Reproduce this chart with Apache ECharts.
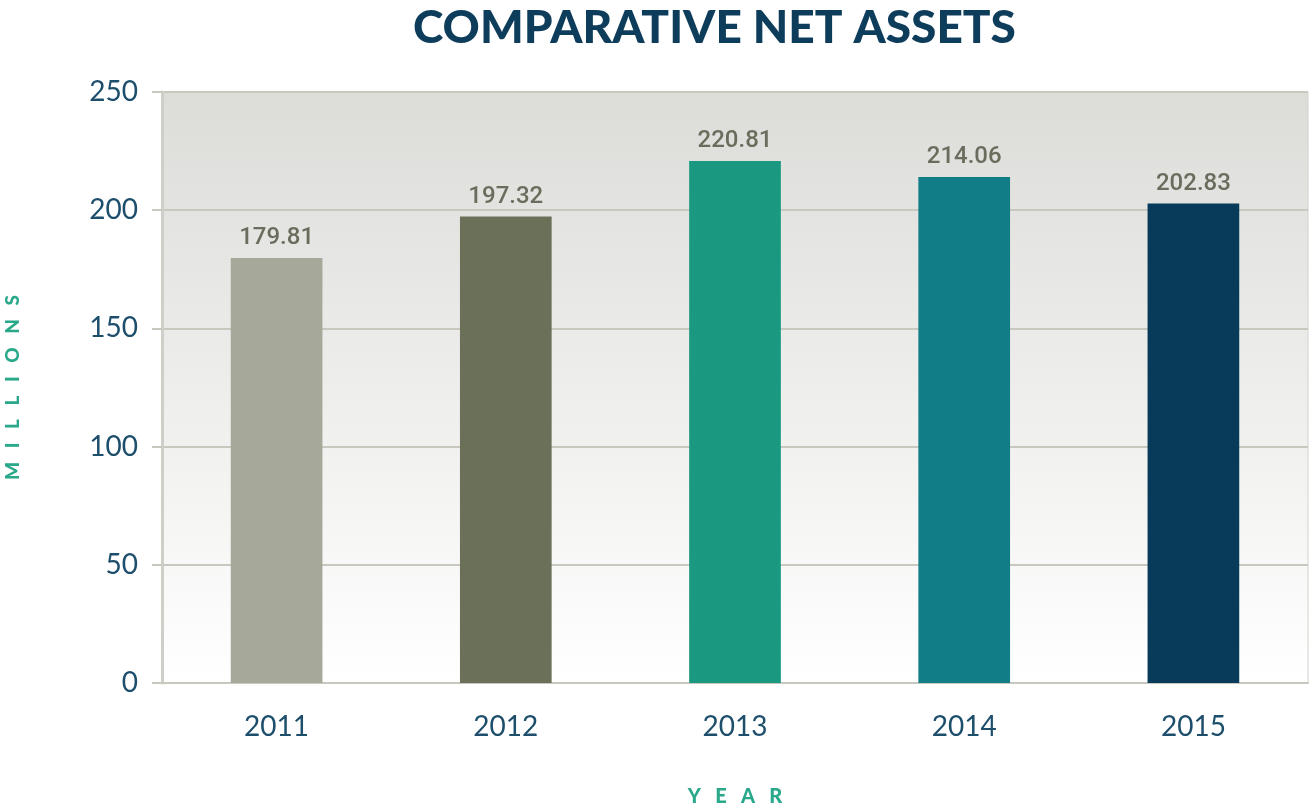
<!DOCTYPE html>
<html>
<head>
<meta charset="utf-8">
<script src="https://cdn.jsdelivr.net/npm/echarts@6/dist/echarts.min.js"></script>
<style>
  html, body { margin: 0; padding: 0; background: #fff; }
  #main { width: 1310px; height: 809px; }
</style>
</head>
<body>
<div id="main"></div>
<script>
// 数据
var years = ['2011', '2012', '2013', '2014', '2015'];
var netAssets = [179.81, 197.32, 220.81, 214.06, 202.83];
var barColors = ['#a6a999', '#6b7059', '#1b9880', '#117d86', '#083b5a'];
var yTicks = [0, 50, 100, 150, 200, 250];

var myChart = echarts.init(document.getElementById('main'));

var option = {
    backgroundColor: '#ffffff',
    title: {
        text: 'COMPARATIVE NET ASSETS',
        left: 408,
        top: 0,
        textStyle: {
            fontFamily: 'Lato',
            fontWeight: 900,
            fontSize: 46,
            color: '#0e3d5c'
        }
    },
    grid: {
        left: 162,
        right: 2,
        top: 92,
        bottom: 126,
        outerBoundsMode: 'none',
        containLabel: false,
        show: true,
        borderColor: '#d2d2ca',
        borderWidth: 1,
        // 背景渐变
        backgroundColor: new echarts.graphic.LinearGradient(0, 0, 0, 1, [
            { offset: 0, color: '#dcdcd9' },
            { offset: 1, color: '#ffffff' }
        ])
    },
    xAxis: {
        type: 'category',
        data: years,
        name: 'Y   E   A   R',
        nameLocation: 'middle',
        nameGap: 104,
        nameTextStyle: {
            fontFamily: 'Lato',
            fontWeight: 900,
            fontSize: 20,
            color: '#2aa88a'
        },
        axisLine: { lineStyle: { color: '#c8c8bf', width: 2 } },
        axisTick: { length: 12, lineStyle: { color: '#d0d0c8', width: 2 } },
        axisLabel: {
            margin: 30,
            fontFamily: 'Lato',
            fontSize: 28,
            color: '#1d4e6c'
        }
    },
    yAxis: {
        type: 'value',
        min: yTicks[0],
        max: yTicks[yTicks.length - 1],
        interval: 50,
        name: 'M   I   L   L   I   O   N   S',
        nameLocation: 'middle',
        nameRotate: 90,
        nameGap: 140,
        nameTextStyle: {
            fontFamily: 'Lato',
            fontWeight: 900,
            fontSize: 19,
            color: '#2aa88a'
        },
        axisLine: { show: true, lineStyle: { color: '#cfcfc7', width: 3 } },
        axisTick: { show: true, length: 10, lineStyle: { color: '#c8c8bf', width: 2 } },
        splitLine: { lineStyle: { color: '#c8c8bf', width: 2 } },
        axisLabel: {
            margin: 24,
            fontFamily: 'Lato',
            fontSize: 28,
            color: '#1d4e6c'
        }
    },
    series: [{
        type: 'bar',
        barWidth: '40%',
        data: netAssets.map(function (v, i) {
            return { value: v, itemStyle: { color: barColors[i] } };
        }),
        label: {
            show: true,
            position: 'top',
            distance: 8,
            fontFamily: 'Roboto',
            fontWeight: 500,
            fontSize: 24,
            color: '#6a6d5d',
            formatter: function (p) { return p.value.toFixed(2); }
        }
    }]
};

myChart.setOption(option);
</script>
</body>
</html>
